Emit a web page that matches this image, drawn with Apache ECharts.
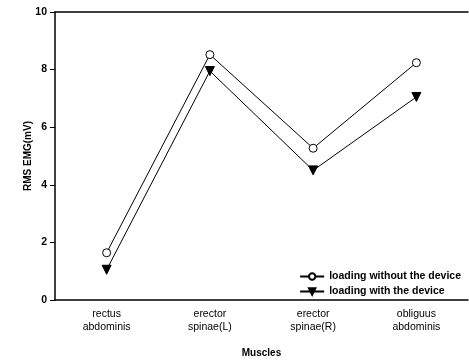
<!DOCTYPE html>
<html>
<head>
<meta charset="utf-8">
<script src="https://cdn.jsdelivr.net/npm/echarts@6/dist/echarts.min.js"></script>
<style>html,body{margin:0;padding:0;background:#fff}#c{width:469px;height:360px}</style>
</head>
<body>
<div id="c"></div>
<script>
var categories = ['rectus\nabdominis', 'erector\nspinae(L)', 'erector\nspinae(R)', 'obliguus\nabdominis'];
var withoutDevice = [1.64, 8.52, 5.27, 8.24];
var withDevice = [1.05, 7.95, 4.5, 7.05];
var yTicks = [0, 2, 4, 6, 8, 10];

var chart = echarts.init(document.getElementById('c'));
var font = 'Liberation Sans, Arial, sans-serif';
chart.setOption({
  animation: false,
  grid: {left: 55, right: 1, top: 12, bottom: 60, containLabel: false, outerBoundsMode: 'none'},
  legend: {
    orient: 'vertical', right: 3, top: 266, itemGap: 4,
    itemWidth: 24, itemHeight: 8,
    textStyle: {fontFamily: font, fontSize: 10.5, color: '#000', fontWeight: 'bold'},
    data: ['loading without the device', 'loading with the device']
  },
  xAxis: [{
    type: 'category', data: categories, boundaryGap: true,
    name: 'Muscles', nameLocation: 'middle', nameGap: 48, nameMoveOverlap: false,
    nameTextStyle: {fontFamily: font, fontSize: 10, color: '#000', fontWeight: 'bold'},
    axisLine: {lineStyle: {color: '#000', width: 1.5}},
    axisTick: {alignWithLabel: true, length: 3, lineStyle: {color: '#000'}},
    axisLabel: {fontFamily: font, fontSize: 10.5, color: '#000', lineHeight: 13, margin: 8}
  }, {
    type: 'category', data: categories, position: 'top',
    axisLine: {lineStyle: {color: '#000', width: 1.5}},
    axisTick: {show: false}, axisLabel: {show: false}
  }],
  yAxis: {
    type: 'value', min: 0, max: 10, interval: 2,
    name: 'RMS EMG(mV)', nameLocation: 'middle', nameGap: 22, nameMoveOverlap: false,
    nameTextStyle: {fontFamily: font, fontSize: 10, color: '#000', fontWeight: 'bold'},
    axisLine: {show: true, lineStyle: {color: '#000', width: 1.5}},
    axisTick: {show: true, length: 5, lineStyle: {color: '#000'}},
    axisLabel: {fontFamily: font, fontSize: 10.5, color: '#000', fontWeight: 'bold', margin: 8,
      formatter: function (v) { return yTicks.indexOf(v) >= 0 ? String(v) : ''; }},
    splitLine: {show: false}
  },
  series: [{
    name: 'loading without the device', type: 'line', data: withoutDevice,
    symbol: 'circle', symbolSize: 8,
    lineStyle: {color: '#000', width: 1},
    itemStyle: {color: '#fff', borderColor: '#000', borderWidth: 1}
  }, {
    name: 'loading with the device', type: 'line', data: withDevice,
    symbol: 'triangle', symbolSize: 9, symbolRotate: 180,
    lineStyle: {color: '#000', width: 1},
    itemStyle: {color: '#000', borderColor: '#000', borderWidth: 1}
  }]
});
</script>
</body>
</html>
